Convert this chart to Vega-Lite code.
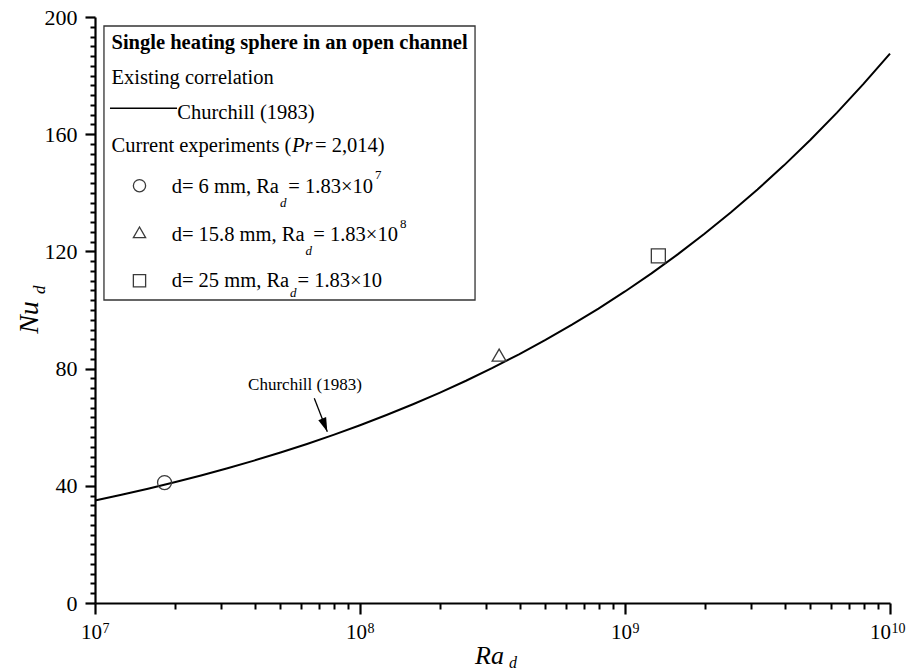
{
  "$schema": "https://vega.github.io/schema/vega-lite/v6.json",
  "width": 795,
  "height": 586,
  "autosize": {"type": "none"},
  "padding": {"left": 95, "top": 17, "right": 19, "bottom": 69},
  "background": "white",
  "config": {
    "view": {"stroke": null},
    "font": "Liberation Serif",
    "text": {"font": "Liberation Serif", "color": "black"},
    "axis": {"labelFont": "Liberation Serif", "titleFont": "Liberation Serif", "grid": false}
  },
  "datasets": {
    "curve": [
      {"Ra": 1.0e7, "Nu": 34.99}, {"Ra": 1.2589e7, "Nu": 36.95}, {"Ra": 1.5849e7, "Nu": 39.02},
      {"Ra": 1.9953e7, "Nu": 41.21}, {"Ra": 2.5119e7, "Nu": 43.54}, {"Ra": 3.1623e7, "Nu": 46.0},
      {"Ra": 3.9811e7, "Nu": 48.6}, {"Ra": 5.0119e7, "Nu": 51.36}, {"Ra": 6.3096e7, "Nu": 54.29},
      {"Ra": 7.9433e7, "Nu": 57.39}, {"Ra": 1.0e8, "Nu": 60.67}, {"Ra": 1.2589e8, "Nu": 64.15},
      {"Ra": 1.5849e8, "Nu": 67.83}, {"Ra": 1.9953e8, "Nu": 71.73}, {"Ra": 2.5119e8, "Nu": 75.86},
      {"Ra": 3.1623e8, "Nu": 80.24}, {"Ra": 3.9811e8, "Nu": 84.87}, {"Ra": 5.0119e8, "Nu": 89.78},
      {"Ra": 6.3096e8, "Nu": 94.99}, {"Ra": 7.9433e8, "Nu": 100.5}, {"Ra": 1.0e9, "Nu": 106.33},
      {"Ra": 1.2589e9, "Nu": 112.51}, {"Ra": 1.5849e9, "Nu": 119.06}, {"Ra": 1.9953e9, "Nu": 126.0},
      {"Ra": 2.5119e9, "Nu": 133.35}, {"Ra": 3.1623e9, "Nu": 141.13}, {"Ra": 3.9811e9, "Nu": 149.37},
      {"Ra": 5.0119e9, "Nu": 158.11}, {"Ra": 6.3096e9, "Nu": 167.35}, {"Ra": 7.9433e9, "Nu": 177.15},
      {"Ra": 1.0e10, "Nu": 187.53}
    ],
    "experiments": [
      {"Ra": 1.83e7, "Nu": 41.1, "case": "d = 6 mm"},
      {"Ra": 3.35e8, "Nu": 84.6, "case": "d = 15.8 mm"},
      {"Ra": 1.336e9, "Nu": 118.5, "case": "d = 25 mm"}
    ],
    "legendBox": [{"Ra": 1.081e7, "Ra2": 2.717e8, "Nu": 196.93, "Nu2": 103.41}],
    "legendLine": [{"Ra": 1.139e7, "Ra2": 2.04e7, "Nu": 168.84}],
    "legendSymbols": [
      {"Ra": 1.472e7, "Nu": 142.43, "case": "d = 6 mm"},
      {"Ra": 1.472e7, "Nu": 126.52, "case": "d = 15.8 mm"},
      {"Ra": 1.472e7, "Nu": 110.0, "case": "d = 25 mm"}
    ],
    "boxTitle": [{"Ra": 1.154e7, "Nu": 188.98, "label": "Single heating sphere in an open channel"}],
    "headers": [
      {"Ra": 1.154e7, "Nu": 177.13, "label": "Existing correlation"},
      {"Ra": 2.045e7, "Nu": 165.09, "label": "Churchill (1983)"},
      {"Ra": 1.154e7, "Nu": 154.03, "label": "Current experiments ("},
      {"Ra": 6.764e7, "Nu": 154.03, "label": "= 2,014)"}
    ],
    "headersItalic": [{"Ra": 5.539e7, "Nu": 154.03, "label": "Pr"}],
    "entries": [
      {"Ra": 1.947e7, "Nu": 140.04, "label": "d= 6 mm, Ra"},
      {"Ra": 5.364e7, "Nu": 140.04, "label": "= 1.83×10"},
      {"Ra": 1.947e7, "Nu": 123.55, "label": "d= 15.8 mm, Ra"},
      {"Ra": 6.664e7, "Nu": 123.55, "label": "= 1.83×10"},
      {"Ra": 1.947e7, "Nu": 107.95, "label": "d= 25 mm, Ra"},
      {"Ra": 5.809e7, "Nu": 107.95, "label": "= 1.83×10"}
    ],
    "entrySubs": [
      {"Ra": 4.991e7, "Nu": 135.26, "label": "d"},
      {"Ra": 6.228e7, "Nu": 118.77, "label": "d"},
      {"Ra": 5.444e7, "Nu": 104.54, "label": "d"}
    ],
    "entrySups": [
      {"Ra": 1.1393e8, "Nu": 144.61, "label": "7"},
      {"Ra": 1.4154e8, "Nu": 127.88, "label": "8"}
    ],
    "note": [{"Ra": 6.2e7, "Nu": 72.7, "label": "Churchill (1983)"}],
    "arrow": [{"Ra": 6.722e7, "Nu": 69.87, "Ra2": 7.527e7, "Nu2": 58.47}],
    "axisSubX": [{"Ra": 3.65e8, "Nu": -22.18, "label": "d"}],
    "axisSubY": [{"Ra": 6.474e6, "Nu": 105.46, "label": "d"}]
  },
  "layer": [
    {
      "data": {"name": "curve"},
      "mark": {"type": "line", "color": "black", "strokeWidth": 2},
      "encoding": {
        "x": {
          "field": "Ra", "type": "quantitative",
          "scale": {"type": "log", "domain": [1e7, 1e10], "nice": false},
          "axis": {
            "orient": "bottom",
            "values": [1e7, 1e8, 1e9, 1e10],
            "labelExpr": "'10'",
            "labelOffset": {"condition": {"test": "datum.value >= 1e10", "value": -10}, "value": -4},
            "tickSize": 11, "tickWidth": 2.2, "tickColor": "black",
            "domainColor": "black", "domainWidth": 2.2,
            "labelFontSize": 21, "labelColor": "black", "labelPadding": 7,
            "labelFlush": false, "labelOverlap": false,
            "title": "Ra", "titleFontSize": 26, "titleFontStyle": "italic", "titleFontWeight": "normal",
            "titleColor": "black", "titleX": 394, "titleY": 60, "titleAlign": "center", "titleBaseline": "alphabetic"
          }
        },
        "y": {
          "field": "Nu", "type": "quantitative",
          "scale": {"domain": [0, 200], "nice": false},
          "axis": {
            "orient": "left",
            "values": [0, 40, 80, 120, 160, 200],
            "tickSize": 10, "tickWidth": 2.2, "tickColor": "black",
            "domainColor": "black", "domainWidth": 2.2,
            "labelFontSize": 22, "labelColor": "black", "labelPadding": 8,
            "labelOverlap": false,
            "title": "Nu", "titleFontSize": 28, "titleFontStyle": "italic", "titleFontWeight": "normal",
            "titleColor": "black", "titleAngle": 270, "titleX": -58, "titleY": 300,
            "titleAlign": "center", "titleBaseline": "alphabetic"
          }
        }
      }
    },
    {
      "data": {"name": "legendBox"},
      "mark": {"type": "rect", "fill": "white", "stroke": "#333333", "strokeWidth": 1.3},
      "encoding": {
        "x": {
          "field": "Ra", "type": "quantitative",
          "scale": {"type": "log", "domain": [1e7, 1e10], "nice": false},
          "axis": {
            "orient": "bottom",
            "values": [1e7, 1e8, 1e9, 1e10],
            "labelExpr": "datum.value == 1e7 ? '7' : datum.value == 1e8 ? '8' : datum.value == 1e9 ? '9' : '10'",
            "labelAlign": "left",
            "labelOffset": {"condition": {"test": "datum.value >= 1e10", "value": 1}, "value": 7},
            "labelDy": -2,
            "tickSize": 11, "tickOpacity": 0, "domain": false,
            "labelFontSize": 14, "labelColor": "black", "labelPadding": 7,
            "labelFlush": false, "labelOverlap": false, "title": null
          }
        },
        "x2": {"field": "Ra2"},
        "y": {"field": "Nu", "type": "quantitative", "scale": {"domain": [0, 200], "nice": false}, "axis": null},
        "y2": {"field": "Nu2"}
      }
    },
    {
      "data": {"name": "legendLine"},
      "mark": {"type": "rule", "color": "black", "strokeWidth": 1.6},
      "encoding": {
        "x": {"field": "Ra", "type": "quantitative", "scale": {"type": "log", "domain": [1e7, 1e10], "nice": false}, "axis": null},
        "x2": {"field": "Ra2"},
        "y": {"field": "Nu", "type": "quantitative", "scale": {"domain": [0, 200], "nice": false}, "axis": null}
      }
    },
    {
      "data": {"name": "legendSymbols"},
      "mark": {"type": "point", "filled": false, "stroke": "#3a3a3a", "strokeWidth": 1.3, "size": 150, "opacity": 1},
      "encoding": {
        "x": {"field": "Ra", "type": "quantitative", "scale": {"type": "log", "domain": [1e7, 1e10], "nice": false}, "axis": null},
        "y": {"field": "Nu", "type": "quantitative", "scale": {"domain": [0, 200], "nice": false}, "axis": null},
        "shape": {
          "field": "case", "type": "nominal",
          "scale": {"domain": ["d = 6 mm", "d = 15.8 mm", "d = 25 mm"], "range": ["circle", "triangle-up", "square"]},
          "legend": null
        }
      }
    },
    {
      "data": {"name": "boxTitle"},
      "mark": {"type": "text", "align": "left", "baseline": "alphabetic", "fontSize": 20.5, "fontWeight": "bold"},
      "encoding": {
        "x": {"field": "Ra", "type": "quantitative", "scale": {"type": "log", "domain": [1e7, 1e10], "nice": false}, "axis": null},
        "y": {"field": "Nu", "type": "quantitative", "scale": {"domain": [0, 200], "nice": false}, "axis": null},
        "text": {"field": "label"}
      }
    },
    {
      "data": {"name": "headers"},
      "mark": {"type": "text", "align": "left", "baseline": "alphabetic", "fontSize": 20.5},
      "encoding": {
        "x": {"field": "Ra", "type": "quantitative", "scale": {"type": "log", "domain": [1e7, 1e10], "nice": false}, "axis": null},
        "y": {"field": "Nu", "type": "quantitative", "scale": {"domain": [0, 200], "nice": false}, "axis": null},
        "text": {"field": "label"}
      }
    },
    {
      "data": {"name": "headersItalic"},
      "mark": {"type": "text", "align": "left", "baseline": "alphabetic", "fontSize": 20.5, "fontStyle": "italic"},
      "encoding": {
        "x": {"field": "Ra", "type": "quantitative", "scale": {"type": "log", "domain": [1e7, 1e10], "nice": false}, "axis": null},
        "y": {"field": "Nu", "type": "quantitative", "scale": {"domain": [0, 200], "nice": false}, "axis": null},
        "text": {"field": "label"}
      }
    },
    {
      "data": {"name": "entries"},
      "mark": {"type": "text", "align": "left", "baseline": "alphabetic", "fontSize": 20.5},
      "encoding": {
        "x": {"field": "Ra", "type": "quantitative", "scale": {"type": "log", "domain": [1e7, 1e10], "nice": false}, "axis": null},
        "y": {"field": "Nu", "type": "quantitative", "scale": {"domain": [0, 200], "nice": false}, "axis": null},
        "text": {"field": "label"}
      }
    },
    {
      "data": {"name": "entrySubs"},
      "mark": {"type": "text", "align": "left", "baseline": "alphabetic", "fontSize": 13, "fontStyle": "italic"},
      "encoding": {
        "x": {"field": "Ra", "type": "quantitative", "scale": {"type": "log", "domain": [1e7, 1e10], "nice": false}, "axis": null},
        "y": {"field": "Nu", "type": "quantitative", "scale": {"domain": [0, 200], "nice": false}, "axis": null},
        "text": {"field": "label"}
      }
    },
    {
      "data": {"name": "entrySups"},
      "mark": {"type": "text", "align": "left", "baseline": "alphabetic", "fontSize": 13},
      "encoding": {
        "x": {"field": "Ra", "type": "quantitative", "scale": {"type": "log", "domain": [1e7, 1e10], "nice": false}, "axis": null},
        "y": {"field": "Nu", "type": "quantitative", "scale": {"domain": [0, 200], "nice": false}, "axis": null},
        "text": {"field": "label"}
      }
    },
    {
      "data": {"name": "note"},
      "mark": {"type": "text", "align": "center", "baseline": "alphabetic", "fontSize": 17},
      "encoding": {
        "x": {"field": "Ra", "type": "quantitative", "scale": {"type": "log", "domain": [1e7, 1e10], "nice": false}, "axis": null},
        "y": {"field": "Nu", "type": "quantitative", "scale": {"domain": [0, 200], "nice": false}, "axis": null},
        "text": {"field": "label"}
      }
    },
    {
      "data": {"name": "axisSubX"},
      "mark": {"type": "text", "align": "left", "baseline": "alphabetic", "fontSize": 16, "fontStyle": "italic"},
      "encoding": {
        "x": {"field": "Ra", "type": "quantitative", "scale": {"type": "log", "domain": [1e7, 1e10], "nice": false}, "axis": null},
        "y": {"field": "Nu", "type": "quantitative", "scale": {"domain": [0, 200], "nice": false}, "axis": null},
        "text": {"field": "label"}
      }
    },
    {
      "data": {"name": "axisSubY"},
      "mark": {"type": "text", "align": "left", "baseline": "alphabetic", "fontSize": 17, "fontStyle": "italic", "angle": 270},
      "encoding": {
        "x": {"field": "Ra", "type": "quantitative", "scale": {"type": "log", "domain": [1e7, 1e10], "nice": false}, "axis": null},
        "y": {"field": "Nu", "type": "quantitative", "scale": {"domain": [0, 200], "nice": false}, "axis": null},
        "text": {"field": "label"}
      }
    },
    {
      "data": {"name": "arrow"},
      "mark": {"type": "rule", "color": "black", "strokeWidth": 1.3},
      "encoding": {
        "x": {"field": "Ra", "type": "quantitative", "scale": {"type": "log", "domain": [1e7, 1e10], "nice": false}, "axis": null},
        "y": {"field": "Nu", "type": "quantitative", "scale": {"domain": [0, 200], "nice": false}, "axis": null},
        "x2": {"field": "Ra2"},
        "y2": {"field": "Nu2"}
      }
    },
    {
      "data": {"name": "arrow"},
      "mark": {"type": "point", "shape": "M0,0L-0.3,-1L0.3,-1Z", "filled": true, "color": "black", "opacity": 1, "size": 784, "angle": 338.7, "strokeWidth": 0},
      "encoding": {
        "x": {"field": "Ra2", "type": "quantitative", "scale": {"type": "log", "domain": [1e7, 1e10], "nice": false}, "axis": null},
        "y": {"field": "Nu2", "type": "quantitative", "scale": {"domain": [0, 200], "nice": false}, "axis": null}
      }
    },
    {
      "data": {"name": "experiments"},
      "mark": {"type": "point", "filled": false, "stroke": "#3a3a3a", "strokeWidth": 1.3, "size": 196, "opacity": 1},
      "encoding": {
        "x": {
          "field": "Ra", "type": "quantitative",
          "scale": {"type": "log", "domain": [1e7, 1e10], "nice": false},
          "axis": {
            "orient": "bottom",
            "values": [2e7, 3e7, 4e7, 5e7, 6e7, 7e7, 8e7, 9e7, 2e8, 3e8, 4e8, 5e8, 6e8, 7e8, 8e8, 9e8, 2e9, 3e9, 4e9, 5e9, 6e9, 7e9, 8e9, 9e9],
            "labels": false, "domain": false, "tickSize": 6, "tickWidth": 2, "tickColor": "black", "title": null
          }
        },
        "y": {
          "field": "Nu", "type": "quantitative",
          "scale": {"domain": [0, 200], "nice": false},
          "axis": {
            "orient": "left",
            "values": [3.333, 6.667, 10, 13.333, 16.667, 20, 23.333, 26.667, 30, 33.333, 36.667,
                       43.333, 46.667, 50, 53.333, 56.667, 60, 63.333, 66.667, 70, 73.333, 76.667,
                       83.333, 86.667, 90, 93.333, 96.667, 100, 103.333, 106.667, 110, 113.333, 116.667,
                       123.333, 126.667, 130, 133.333, 136.667, 140, 143.333, 146.667, 150, 153.333, 156.667,
                       163.333, 166.667, 170, 173.333, 176.667, 180, 183.333, 186.667, 190, 193.333, 196.667],
            "labels": false, "domain": false, "tickSize": 5, "tickWidth": 2, "tickColor": "black", "title": null
          }
        },
        "shape": {"field": "case", "type": "nominal", "legend": null}
      }
    }
  ],
  "resolve": {"axis": {"x": "independent", "y": "independent"}}
}
